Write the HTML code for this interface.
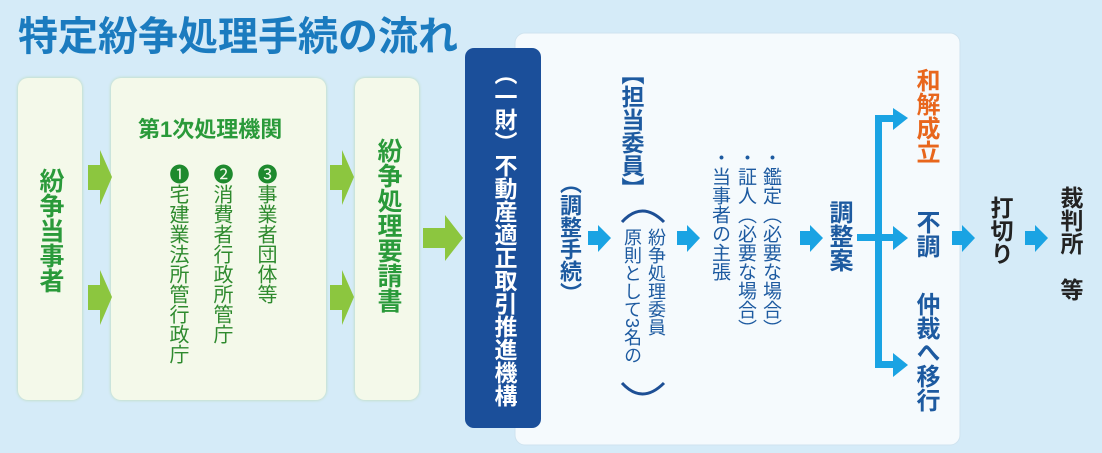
<!DOCTYPE html>
<html><head><meta charset="utf-8"><style>
body{margin:0;width:1102px;height:453px;background:#d5ebf8;position:relative;overflow:hidden;font-family:"Liberation Sans","Noto Sans CJK JP",sans-serif;}
.a{position:absolute;}
.v{position:absolute;writing-mode:vertical-rl;font-weight:bold;white-space:nowrap;line-height:1;}
.box{position:absolute;background:#f4f9ea;border-radius:10px;box-shadow:0 0 3px #b8d8b0;}
.g{color:#2a9a3a;}
.t{color:#1d5aa0;}
</style></head><body>
<div class="a" style="left:18px;top:4px;font-size:40px;font-weight:bold;color:#1b7bbf;">特定紛争処理手続の流れ</div>

<div class="box" style="left:18px;top:78px;width:64px;height:322px;"></div>
<div class="box" style="left:111px;top:78px;width:215px;height:322px;"></div>
<div class="box" style="left:355px;top:78px;width:64px;height:322px;"></div>

<div class="v g" style="left:37px;top:168px;font-size:25px;">紛争当事者</div>
<div class="a g" style="left:138px;top:112px;font-size:22px;font-weight:bold;">第1次処理機関</div>
<div class="v" style="left:167px;top:164px;font-size:20px;color:#2e8a2e;font-weight:normal;"><span style="color:#1e8a2e">❶</span>宅建業法所管行政庁</div>
<div class="v" style="left:211px;top:164px;font-size:20px;color:#2e8a2e;font-weight:normal;"><span style="color:#1e8a2e">❷</span>消費者行政所管庁</div>
<div class="v" style="left:255px;top:164px;font-size:20px;color:#2e8a2e;font-weight:normal;"><span style="color:#1e8a2e">❸</span>事業者団体等</div>
<div class="v g" style="left:375px;top:138px;font-size:25px;">紛争処理要請書</div>

<svg class="a" style="left:0;top:0" width="1102" height="453">
<g fill="#8cc63f">
<polygon points="88,165 100,165 100,150 112,177 100,205 100,190 88,190"/>
<polygon points="88,285 100,285 100,270 112,297 100,325 100,310 88,310"/>
<polygon points="330,165 342,165 342,150 354,177 342,205 342,190 330,190"/>
<polygon points="330,285 342,285 342,270 354,297 342,325 342,310 330,310"/>
<polygon points="423,228 445,228 445,215 463,238 445,261 445,248 423,248"/>
</g>
<rect x="515" y="33" width="445" height="412" rx="10" fill="#f5fafd" stroke="#cfe3ef"/>
<rect x="465" y="48" width="76" height="380" rx="9" fill="#1b4f9a"/>
<g fill="#1aa3e3">
<polygon points="588,231 598,231 598,225 611,238 598,252 598,245 588,245"/>
<polygon points="677,231 687,231 687,225 700,238 687,252 687,245 677,245"/>
<polygon points="800,231 810,231 810,225 823,238 810,252 810,245 800,245"/>
<polygon points="952,231 962,231 962,225 975,238 962,252 962,245 952,245"/>
<polygon points="1025,231 1035,231 1035,225 1048,238 1035,252 1035,245 1025,245"/>
<rect x="857" y="234" width="36" height="7"/>
<rect x="875" y="115" width="7" height="253"/>
<rect x="875" y="115" width="20" height="7"/>
<rect x="875" y="361" width="20" height="7"/>
<polygon points="893,108 908,118 893,130"/>
<polygon points="893,226 908,238 893,250"/>
<polygon points="893,353 908,365 893,377"/>
</g>
<g fill="none" stroke="#1d4f95" stroke-width="3">
<path d="M622,222 Q642,200 664,222"/>
<path d="M622,383 Q642,405 664,383"/>
</g>
</svg>

<div class="v" style="left:492px;top:62px;font-size:23px;color:#fff;">（一財）不動産適正取引推進機構</div>
<div class="v t" style="left:558px;top:172px;font-size:22px;">（調整手続）</div>
<div class="v t" style="left:619px;top:62px;font-size:23px;">【担当委員】</div>
<div class="v t" style="left:647px;top:228px;font-size:18px;font-weight:normal;">紛争処理委員</div>
<div class="v t" style="left:623px;top:228px;font-size:18px;font-weight:normal;">原則として3名の</div>
<div class="v t" style="left:761px;top:148px;font-size:19px;font-weight:normal;">・鑑定（必要な場合）</div>
<div class="v t" style="left:736px;top:148px;font-size:19px;font-weight:normal;">・証人（必要な場合）</div>
<div class="v t" style="left:710px;top:148px;font-size:19px;font-weight:normal;">・当事者の主張</div>
<div class="v t" style="left:826px;top:200px;font-size:24px;">調整案</div>
<div class="v" style="left:913px;top:68px;font-size:24px;color:#e8661c;">和解成立</div>
<div class="v t" style="left:913px;top:210px;font-size:24px;">不調</div>
<div class="v t" style="left:913px;top:292px;font-size:24px;">仲裁へ移行</div>
<div class="v" style="left:988px;top:196px;font-size:23px;color:#222;">打切り</div>
<div class="v" style="left:1058px;top:186px;font-size:23px;color:#222;">裁判所　等</div>
</body></html>
